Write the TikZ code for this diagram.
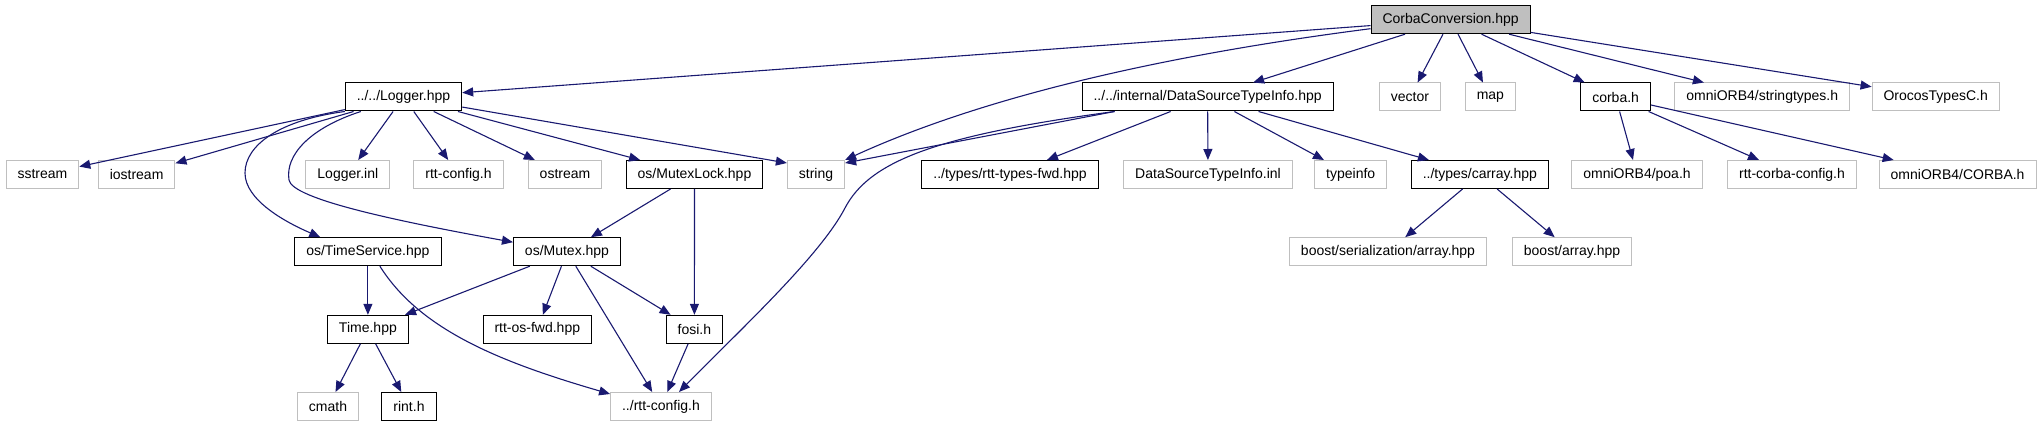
\documentclass[tikz,border=0pt]{standalone}
\usepackage{fontspec}
\setmainfont{Liberation Sans}
\usetikzlibrary{arrows.meta}
\definecolor{DoxEdge}{HTML}{191970}
\definecolor{DoxGrey}{HTML}{BFBFBF}

\begin{document}
\begin{tikzpicture}[
    x=1pt, y=-1pt,
    docfile/.style={
      draw=black,
      line width=1pt,
      fill=white,
      minimum height=28pt,
      inner xsep=11.5pt,
      inner ysep=0pt,
      font=\fontsize{14}{16}\selectfont
    },
    sysfile/.style={
      docfile,
      draw=DoxGrey
    },
    rootfile/.style={
      docfile,
      fill=DoxGrey
    },
    arr/.style={
      -{Triangle[length=11pt,width=9pt]},
      line width=1.1pt,
      color=DoxEdge
    }
  ]
  \useasboundingbox (0,0) rectangle (2037,427);

  % Top file
  \node[rootfile] (root) at (1450.6,19.7) {CorbaConversion.hpp};

  % First level
  \node[docfile] (logger) at (403.5,97) {../../Logger.hpp};
  \node[docfile] (dsti) at (1207.6,97) {../../internal/DataSourceTypeInfo.hpp};
  \node[sysfile] (vector) at (1410,97) {vector};
  \node[sysfile] (map) at (1490.4,97) {map};
  \node[docfile] (corba) at (1615.6,97) {corba.h};
  \node[sysfile] (strtypes) at (1762.3,97) {omniORB4/stringtypes.h};
  \node[sysfile] (orocos) at (1935.7,97) {OrocosTypesC.h};

  % Second level
  \node[sysfile] (sstream) at (42.4,174.5) {sstream};
  \node[sysfile] (iostream) at (136.6,174.5) {iostream};
  \node[sysfile] (loginl) at (347.8,174.5) {Logger.inl};
  \node[sysfile] (rttcfgh) at (458.5,174.5) {rtt-config.h};
  \node[sysfile] (ostream) at (565,174.5) {ostream};
  \node[docfile] (mutexlock) at (694.5,174.5) {os/MutexLock.hpp};
  \node[sysfile] (string) at (816,174.5) {string};
  \node[docfile] (typesfwd) at (1010,174.5) {../types/rtt-types-fwd.hpp};
  \node[sysfile] (dstiinl) at (1208,174.5) {DataSourceTypeInfo.inl};
  \node[sysfile] (typeinfo) at (1350.7,174.5) {typeinfo};
  \node[docfile] (carray) at (1479.8,174.5) {../types/carray.hpp};
  \node[sysfile] (poa) at (1637,174.5) {omniORB4/poa.h};
  \node[sysfile] (corbacfg) at (1792,174.5) {rtt-corba-config.h};
  \node[sysfile] (corbah) at (1957.6,174.5) {omniORB4/CORBA.h};

  % Third level
  \node[docfile] (tsvc) at (367.9,251.7) {os/TimeService.hpp};
  \node[docfile] (mutex) at (567,251.7) {os/Mutex.hpp};
  \node[sysfile] (serarray) at (1388,251.7) {boost/serialization/array.hpp};
  \node[sysfile] (barray) at (1572,251.7) {boost/array.hpp};

  % Fourth level
  \node[docfile] (time) at (367.9,329.3) {Time.hpp};
  \node[docfile] (osfwd) at (537.3,329.3) {rtt-os-fwd.hpp};
  \node[docfile] (fosi) at (694.4,329.3) {fosi.h};

  % Bottom level
  \node[sysfile] (cmath) at (328,406.5) {cmath};
  \node[docfile] (rint) at (409,406.5) {rint.h};
  \node[sysfile] (rttcfg) at (661,406.5) {../rtt-config.h};

  % CorbaConversion.hpp includes
  \draw[arr] (root) -- (logger);
  \draw[arr] ([yshift=-9pt]root.west) .. controls (1150,57) and (976,100) .. (string.north east);
  \draw[arr] (root) -- (dsti);
  \draw[arr] (root) -- (vector);
  \draw[arr] (root) -- (map);
  \draw[arr] (root) -- (corba);
  \draw[arr] (root) -- (strtypes);
  \draw[arr] (root) -- (orocos);

  % Logger.hpp includes
  \draw[arr] (logger) -- (sstream);
  \draw[arr] (logger) -- (iostream);
  \draw[arr] (logger.south west) .. controls (280,120) and (245,145) .. (245,173)
    .. controls (245,200) and (285,222) .. ([xshift=26pt]tsvc.north west);
  \draw[arr] ([xshift=16pt]logger.south west) .. controls (310,128) and (285,155) .. (289,180)
    .. controls (292,199) and (396,221) .. ([yshift=-5pt]mutex.north west);
  \draw[arr] (logger) -- (loginl);
  \draw[arr] (logger) -- (rttcfgh);
  \draw[arr] (logger) -- (ostream);
  \draw[arr] (logger) -- (mutexlock);
  \draw[arr] (logger) -- ([yshift=-3pt]string.north west);

  % DataSourceTypeInfo.hpp includes
  \draw[arr] ([xshift=33pt]dsti.south west) -- ([yshift=-3pt]string.north east);
  \draw[arr] ([xshift=33pt]dsti.south west) .. controls (940,135) and (870,160) .. (845,208)
    .. controls (820,256) and (740,330) .. ([xshift=18pt]rttcfg.north);
  \draw[arr] (dsti) -- (typesfwd);
  \draw[arr] (dsti) -- (dstiinl);
  \draw[arr] (dsti) -- (typeinfo);
  \draw[arr] (dsti) -- (carray);

  % carray.hpp and corba.h
  \draw[arr] (carray) -- (serarray);
  \draw[arr] (carray) -- (barray);
  \draw[arr] (corba) -- (poa);
  \draw[arr] (corba) -- (corbacfg);
  \draw[arr] (corba) -- (corbah);

  % os headers
  \draw[arr] (mutexlock) -- (mutex);
  \draw[arr] (mutexlock) -- (fosi);
  \draw[arr] (mutex) -- (time);
  \draw[arr] (mutex) -- (osfwd);
  \draw[arr] (mutex) -- (rttcfg);
  \draw[arr] (mutex) -- (fosi);
  \draw[arr] (tsvc) -- (time);
  \draw[arr] ([xshift=12pt]tsvc.south) .. controls (420,330) and (500,362) .. ([yshift=-2pt]rttcfg.north west);
  \draw[arr] (time) -- (cmath);
  \draw[arr] (time) -- (rint);
  \draw[arr] (fosi) -- (rttcfg);

\end{tikzpicture}
\end{document}
